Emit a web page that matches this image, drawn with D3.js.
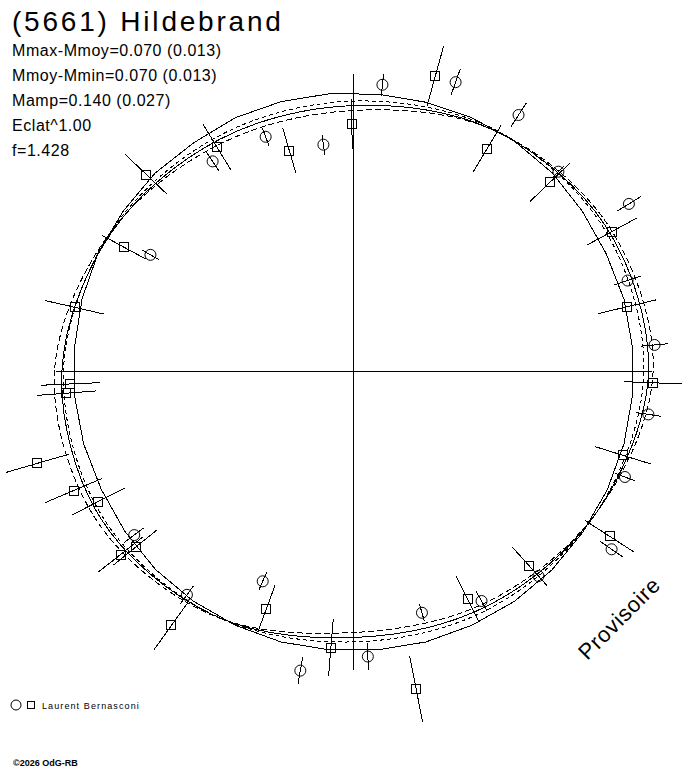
<!DOCTYPE html>
<html>
<head>
<meta charset="utf-8">
<script src="https://cdn.jsdelivr.net/npm/d3@7"></script>
<style>
  body { margin: 0; background: #fff; }
  svg { display: block; }
  text { font-family: "Liberation Sans", Arial, sans-serif; fill: #000; }
  .trace { fill: none; stroke: #000; stroke-width: 1; }
  .dashed { stroke-dasharray: 6 3; }
  .bar { stroke: #000; stroke-width: 1; }
  .mark { fill: none; stroke: #000; stroke-width: 1; }
</style>
</head>
<body>
<svg id="chart"></svg>
<script>
// header texts
var title = "(5661) Hildebrand";
var infoLines = [
  "Mmax-Mmoy=0.070 (0.013)",
  "Mmoy-Mmin=0.070 (0.013)",
  "Mamp=0.140 (0.027)",
  "Eclat^1.00",
  "f=1.428"
];
var observer = "Laurent Bernasconi";

// mean magnitude circle, one value every 1/36 of phase (centred in each step)
var meanDm = [
  -0.008, -0.006, 0.000, 0.005, 0.005, -0.003, -0.006, 0.000, 0.000,
  0.000, 0.000, 0.000, 0.000, 0.003, 0.003, 0.000, 0.000, -0.003,
  -0.003, 0.000, 0.000, 0.000, 0.000, -0.005, -0.008, -0.003, 0.000,
  0.000, 0.005, 0.008, 0.003, 0.003, -0.005, 0.000, -0.003, -0.006
];

// fitted curve and its two bounds, one value every 1/12 of phase
var fitPhase = [0, 0.0833, 0.1667, 0.25, 0.3333, 0.4167, 0.5, 0.5833, 0.6667, 0.75, 0.8333, 0.9167];
var fitDm    = [-0.070, -0.005, 0.055, 0.075, 0.005, -0.050, -0.070, 0.005, 0.062, 0.058, -0.005, -0.060];
var fitHigh  = [-0.095, -0.005, 0.068, 0.098, 0.005, -0.068, -0.095, 0.008, 0.085, 0.095, 0.000, -0.082];
var fitLow   = [-0.048, 0.000, 0.042, 0.052, 0.005, -0.033, -0.048, 0.005, 0.050, 0.050, 0.000, -0.043];

// observations, first series (circles)
var circPhase = [0.016, 0.054, 0.091, 0.127, 0.163, 0.199, 0.236, 0.273, 0.309, 0.346, 0.383,
                 0.419, 0.456, 0.492, 0.528, 0.565, 0.602, 0.648, 0.833, 0.906, 0.943, 0.979];
var circDm    = [0.041, 0.134, 0.125, 0.031, 0.212, 0.044, 0.111, 0.090, 0.056, 0.167, -0.021,
                 -0.086, -0.146, 0.027, 0.119, -0.257, -0.007, -0.032, -0.229, -0.135, -0.147, -0.256];
var circErr   = [0.055, 0.068, 0.070, 0.040, 0.072, 0.070, 0.070, 0.064, 0.055, 0.070, 0.060,
                 0.058, 0.045, 0.067, 0.067, 0.050, 0.055, 0.062, 0.050, 0.055, 0.048, 0.050];

// observations, second series (squares)
var sqPhase = [0.043, 0.086, 0.128, 0.171, 0.213, 0.256, 0.298, 0.341, 0.383, 0.426, 0.469,
               0.513, 0.556, 0.599, 0.642, 0.644, 0.675, 0.686, 0.705, 0.738, 0.743, 0.786,
               0.829, 0.871, 0.913, 0.955, 0.999];
var sqDm    = [0.133, -0.100, -0.037, 0.069, 0.006, 0.098, 0.011, 0.123, -0.088, -0.126, 0.220,
               -0.014, -0.136, 0.162, 0.000, 0.081, 0.033, 0.121, 0.246, 0.040, 0.017, 0.031,
               -0.096, 0.029, -0.085, -0.250, -0.162];
var sqErr   = [0.155, 0.135, 0.138, 0.140, 0.148, 0.145, 0.145, 0.148, 0.130, 0.130, 0.168,
               0.143, 0.124, 0.150, 0.140, 0.140, 0.150, 0.155, 0.165, 0.148, 0.148, 0.150,
               0.125, 0.145, 0.135, 0.118, 0.125];

var width = 688, height = 768;
var cx = 353.5, cy = 371.5;

var svg = d3.select("#chart")
    .attr("width", width)
    .attr("height", height);

var angle = d3.scaleLinear()
              .domain([0, 1])
              .range([0, 2 * Math.PI]);

var radius = d3.scaleLinear()
               .domain([0, 0.1])
               .range([280, 300]);

var plot = svg.append("g")
    .attr("transform", "translate(" + cx + "," + cy + ")")
    .attr("shape-rendering", "crispEdges");

// cross through the centre
var axisDm = 0.09;
[0, 0.25].forEach(p => {
  var a = d3.pointRadial(angle(p), radius(axisDm));
  var b = d3.pointRadial(angle(p + 0.5), radius(axisDm));
  plot.append("line")
      .classed("bar", true)
      .attr("x1", a[0]).attr("y1", a[1])
      .attr("x2", b[0]).attr("y2", b[1]);
});

// mean circle drawn as a polygon
var meanPts = meanDm.map((d, i) => ({ phase: (i + 0.5) / meanDm.length, dm: d }));

var polyLine = d3.lineRadial()
                 .angle(d => angle(d.phase))
                 .radius(d => radius(d.dm))
                 .curve(d3.curveLinearClosed);

plot.append("path")
    .datum(meanPts)
    .classed("trace", true)
    .attr("d", polyLine);

// fitted curve with its bounds
var smoothLine = d3.lineRadial()
                   .angle(d => angle(d.phase))
                   .radius(d => radius(d.dm))
                   .curve(d3.curveCatmullRomClosed);

function fitSeries(values) {
  return fitPhase.map((p, i) => ({ phase: p, dm: values[i] }));
}

plot.append("path")
    .datum(fitSeries(fitDm))
    .classed("trace", true)
    .attr("d", smoothLine);

plot.append("path")
    .datum(fitSeries(fitHigh))
    .classed("trace dashed", true)
    .attr("d", smoothLine);

plot.append("path")
    .datum(fitSeries(fitLow))
    .classed("trace dashed", true)
    .style("stroke-dasharray", "4 3")
    .attr("d", smoothLine);

// observations with radial error bars
function drawPoints(phases, dms, errs, shape) {
  var pts = phases.map((p, i) => ({ phase: p, dm: dms[i], err: errs[i] }));
  var g = plot.append("g");

  g.selectAll(".bar")
    .data(pts)
    .enter()
    .append("line")
      .classed("bar", true)
      .attr("x1", d => d3.pointRadial(angle(d.phase), radius(d.dm - d.err))[0])
      .attr("y1", d => d3.pointRadial(angle(d.phase), radius(d.dm - d.err))[1])
      .attr("x2", d => d3.pointRadial(angle(d.phase), radius(d.dm + d.err))[0])
      .attr("y2", d => d3.pointRadial(angle(d.phase), radius(d.dm + d.err))[1]);

  if (shape === "circle") {
    g.selectAll(".mark")
      .data(pts)
      .enter()
      .append("circle")
        .classed("mark", true)
        .attr("shape-rendering", "auto")
        .attr("r", 5.5)
        .attr("cx", d => d3.pointRadial(angle(d.phase), radius(d.dm))[0])
        .attr("cy", d => d3.pointRadial(angle(d.phase), radius(d.dm))[1]);
  } else {
    g.selectAll(".mark")
      .data(pts)
      .enter()
      .append("rect")
        .classed("mark", true)
        .attr("width", 9)
        .attr("height", 9)
        .attr("x", d => d3.pointRadial(angle(d.phase), radius(d.dm))[0] - 4.5)
        .attr("y", d => d3.pointRadial(angle(d.phase), radius(d.dm))[1] - 4.5);
  }
}

drawPoints(circPhase, circDm, circErr, "circle");
drawPoints(sqPhase, sqDm, sqErr, "square");

// header
svg.append("text")
    .attr("x", 12)
    .attr("y", 31)
    .attr("font-size", 28)
    .attr("letter-spacing", 2.8)
    .text(title);

svg.selectAll(".info")
  .data(infoLines)
  .enter()
  .append("text")
    .classed("info", true)
    .attr("x", 12)
    .attr("y", (d, i) => 56 + i * 25)
    .attr("font-size", 16)
    .attr("letter-spacing", 0.55)
    .text(d => d);

// watermark
svg.append("text")
    .attr("transform", "translate(619,618) rotate(-45)")
    .attr("y", 8)
    .attr("font-size", 22)
    .attr("letter-spacing", 0.8)
    .style("text-anchor", "middle")
    .text("Provisoire");

// legend
var legend = svg.append("g")
    .attr("transform", "translate(0,705)");

legend.append("circle")
    .classed("mark", true)
    .attr("cx", 16)
    .attr("cy", 0)
    .attr("r", 5);

legend.append("rect")
    .classed("mark", true)
    .attr("shape-rendering", "crispEdges")
    .attr("x", 27.5)
    .attr("y", -3.5)
    .attr("width", 7)
    .attr("height", 7);

legend.append("text")
    .attr("x", 42)
    .attr("y", 3.5)
    .attr("font-size", 9)
    .attr("letter-spacing", 1.1)
    .text(observer);

svg.append("text")
    .attr("x", 13)
    .attr("y", 766)
    .attr("font-size", 9)
    .attr("font-weight", "bold")
    .text("\u00a92026 OdG-RB");
</script>
</body>
</html>
